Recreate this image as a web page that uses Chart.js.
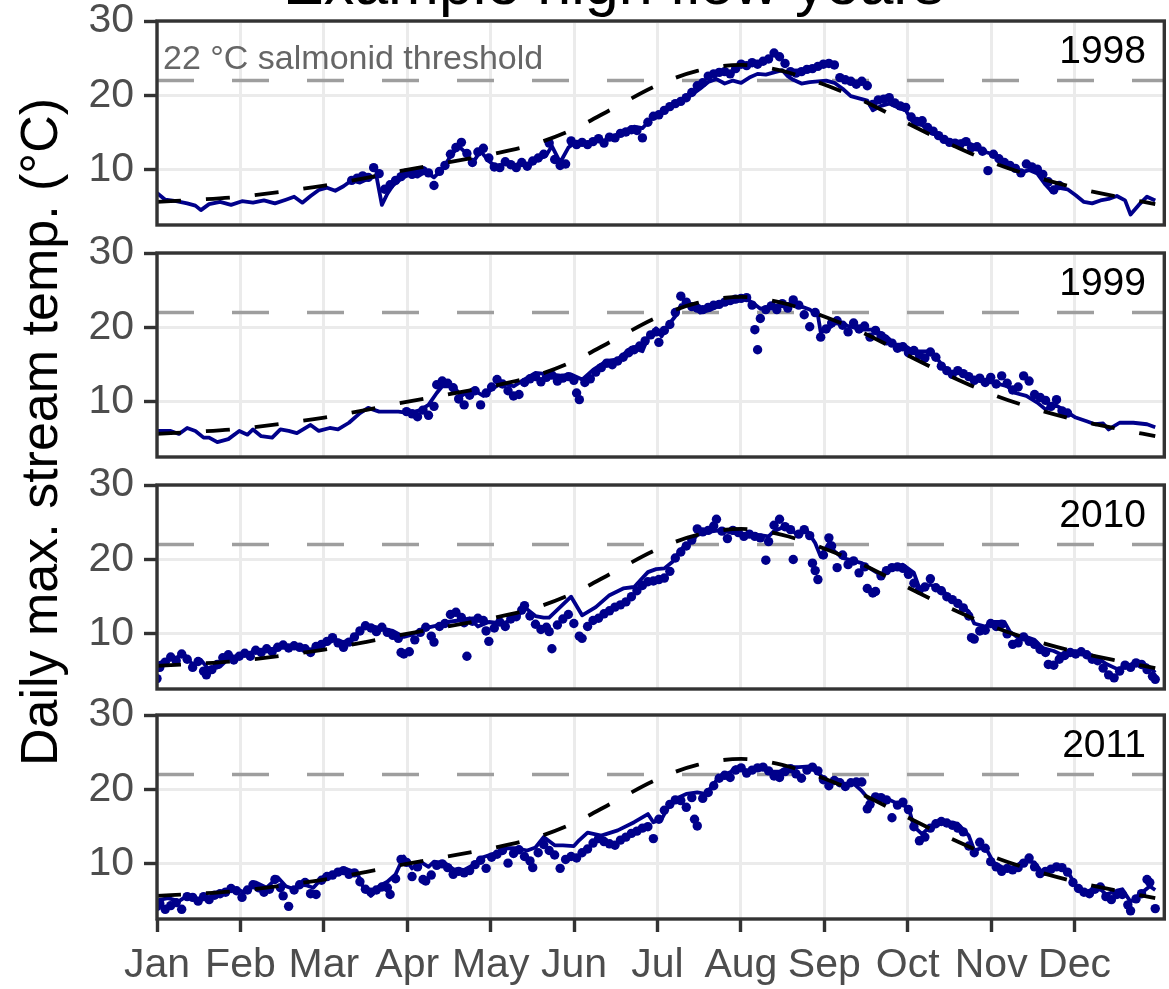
<!DOCTYPE html>
<html>
<head>
<meta charset="utf-8">
<script src="https://cdn.jsdelivr.net/npm/chart.js@4.4.1/dist/chart.umd.min.js"></script>
<style>
html,body{margin:0;padding:0;background:#ffffff;}
#wrap{position:relative;width:1169px;height:989px;overflow:hidden;background:#ffffff;font-family:'Liberation Sans',Arial,Helvetica,sans-serif;}
#wrap canvas{position:absolute;left:0;}
.txt{position:absolute;white-space:nowrap;line-height:1;z-index:5;}
</style>
</head>
<body>
<div id="wrap"></div>
<script>
// ---------------- DATA ----------------
const chartTitle = "Example high flow years";
const yAxisTitle = "Daily max. stream temp. (°C)";
const thresholdLabel = "22 °C salmonid threshold";
const threshold = 22;
const years = ["1998", "1999", "2010", "2011"];
const monthLabels = ["Jan","Feb","Mar","Apr","May","Jun","Jul","Aug","Sep","Oct","Nov","Dec"];
const monthTicks = [0, 30.42, 60.83, 91.25, 121.67, 152.08, 182.5, 212.92, 243.33, 273.75, 304.17, 334.58];
const yTicks = [10, 20, 30];

// long-term daily max (dashed) [day of year, °C]
const climatology = [[0,5.7],[15,6.0],[30,6.4],[46,7.1],[61,7.9],[76,8.9],[91,10.0],[106,11.0],[122,12.1],[137,13.4],[152,15.5],[167,18.4],[182,21.3],[197,23.3],[213,24.1],[228,23.3],[243,21.5],[258,19.2],[274,16.2],[289,13.5],[304,11.1],[319,9.2],[335,7.6],[350,6.4],[364,5.4]];

// modelled daily max (line)
const line1998 = [[0,6.9],[3,6.0],[7,5.8],[11,5.5],[14,5.2],[16,4.6],[19,5.4],[23,5.7],[27,5.3],[31,5.8],[35,5.6],[39,5.9],[43,5.5],[47,6.0],[50,6.4],[53,5.6],[56,6.5],[59,7.3],[62,7.6],[65,7.2],[68,7.8],[71,8.6],[74,8.3],[77,8.8],[80,9.2],[82,5.3],[84,6.8],[86,7.9],[89,8.8],[92,9.4],[95,9.1],[98,9.8],[101,9.0],[104,10.1],[107,11.8],[110,13.2],[112,12.5],[115,10.9],[118,12.5],[121,11.2],[124,10.3],[127,10.9],[130,10.6],[133,10.9],[136,10.7],[139,11.4],[142,12.0],[144,13.2],[147,11.0],[150,13.0],[153,13.8],[156,13.5],[159,13.9],[162,13.8],[165,14.2],[168,14.8],[171,15.3],[174,15.8],[177,15.6],[180,16.8],[183,17.3],[186,18.1],[189,18.7],[192,19.4],[195,20.1],[198,20.9],[201,21.8],[204,22.2],[207,21.6],[210,22.0],[213,21.7],[216,22.4],[219,22.9],[222,22.8],[225,23.1],[228,23.4],[230,22.6],[232,22.1],[235,21.6],[238,21.8],[241,21.9],[244,22.0],[247,21.7],[250,20.9],[253,19.9],[256,19.6],[259,19.3],[261,18.0],[264,18.6],[267,18.9],[270,18.4],[273,18.0],[276,16.2],[279,16.0],[282,15.2],[285,14.4],[288,13.7],[291,13.6],[294,13.9],[297,13.4],[300,12.6],[303,12.3],[306,12.0],[309,10.8],[312,10.1],[315,9.6],[318,10.0],[321,9.5],[324,8.0],[326,7.2],[329,7.6],[332,7.4],[335,6.6],[338,5.7],[341,5.5],[344,5.9],[347,6.1],[350,6.5],[353,5.9],[355,4.0],[358,5.3],[361,6.4],[364,5.9]];
const line1999 = [[0,6.1],[5,6.1],[8,5.7],[11,6.5],[14,6.1],[17,5.2],[19,5.2],[22,4.6],[26,5.0],[30,6.1],[33,5.6],[35,6.3],[38,5.4],[42,5.2],[45,6.3],[48,6.1],[51,5.8],[56,6.9],[59,6.1],[63,6.5],[66,6.3],[70,7.2],[74,8.5],[77,9.2],[81,8.7],[85,8.7],[88,8.7],[92,8.5],[96,8.9],[99,9.6],[102,11.2],[104,12.1],[108,12.1],[111,10.8],[115,11.7],[119,10.8],[122,11.7],[126,12.6],[130,12.1],[133,12.8],[138,13.9],[143,13.7],[148,13.5],[151,13.7],[155,13.0],[159,14.3],[164,15.5],[168,15.7],[173,17.3],[177,16.8],[179,18.6],[182,19.9],[184,18.8],[186,20.1],[189,21.5],[191,23.0],[195,23.0],[198,22.0],[202,22.4],[207,23.2],[212,23.6],[215,23.8],[218,23.1],[220,22.5],[224,22.8],[228,23.1],[231,23.2],[235,22.8],[238,22.4],[241,21.6],[242,19.4],[245,19.9],[248,20.8],[252,20.2],[257,19.7],[261,19.7],[266,18.8],[269,17.7],[272,17.7],[276,16.8],[281,16.8],[284,16.1],[288,14.0],[292,14.1],[295,13.4],[300,12.8],[305,12.6],[310,12.1],[313,11.2],[317,10.8],[321,9.9],[324,9.0],[328,9.5],[332,8.6],[335,7.9],[339,7.4],[342,7.0],[345,7.1],[347,6.3],[351,7.2],[356,7.2],[361,7.0],[364,6.6]];
const line2010 = [[0,6.0],[5,6.6],[10,7.2],[13,5.9],[16,6.5],[19,5.2],[23,5.6],[27,7.0],[30,6.9],[34,7.5],[38,7.8],[42,8.0],[47,8.3],[52,8.2],[56,7.9],[60,8.4],[65,9.2],[68,8.9],[71,9.3],[75,10.8],[79,11.0],[82,10.7],[86,10.4],[90,9.6],[93,9.9],[97,10.7],[102,11.1],[106,11.6],[110,11.8],[114,12.1],[117,11.0],[121,11.6],[126,11.4],[131,12.1],[134,13.6],[138,12.4],[141,12.2],[143,12.2],[147,13.6],[151,15.0],[155,12.5],[160,13.6],[165,15.2],[170,16.1],[174,16.3],[179,18.3],[182,18.7],[185,18.8],[188,19.7],[190,20.8],[192,21.7],[195,22.4],[197,23.3],[201,23.7],[205,23.9],[208,23.7],[212,23.5],[216,23.3],[219,23.3],[223,23.1],[225,23.8],[228,24.3],[230,24.2],[233,23.5],[235,23.7],[237,23.9],[240,22.2],[242,20.4],[245,22.2],[247,21.1],[250,20.2],[253,19.9],[257,19.5],[260,18.8],[264,17.9],[266,18.4],[270,19.1],[272,19.3],[276,18.2],[278,16.1],[282,16.6],[286,16.1],[289,14.8],[293,13.9],[296,13.0],[298,11.4],[302,11.0],[305,11.6],[309,11.6],[311,10.3],[314,9.5],[316,9.7],[320,9.2],[323,8.1],[327,7.7],[331,7.0],[334,7.7],[339,7.4],[343,6.8],[346,6.0],[350,5.3],[354,5.6],[357,6.3],[361,5.8],[364,4.8]];
const line2011 = [[0,5.1],[4,5.4],[8,5.0],[11,5.7],[15,5.3],[18,5.3],[22,5.7],[25,6.4],[29,6.6],[32,6.2],[36,7.5],[40,6.8],[44,8.2],[47,7.0],[50,6.6],[53,7.3],[57,6.8],[61,8.4],[64,8.6],[69,9.3],[73,8.8],[75,7.0],[78,5.7],[81,7.0],[84,7.6],[87,8.6],[90,11.0],[93,9.4],[96,10.3],[99,9.6],[101,10.3],[105,10.1],[108,9.3],[112,9.2],[116,10.0],[118,10.8],[123,11.4],[127,12.1],[131,12.1],[135,11.8],[138,12.2],[141,13.6],[145,12.5],[148,12.5],[152,12.4],[154,13.2],[157,14.2],[162,13.8],[168,14.5],[174,15.6],[179,16.7],[181,15.6],[184,16.0],[186,17.4],[190,18.9],[193,19.4],[197,19.6],[200,19.4],[203,20.7],[205,21.8],[209,22.3],[211,23.0],[216,22.4],[220,23.0],[224,22.4],[227,22.4],[231,23.0],[234,23.0],[238,23.1],[242,21.9],[245,20.6],[248,21.3],[251,20.5],[254,20.8],[257,19.8],[260,18.5],[263,19.0],[266,18.8],[270,18.1],[274,17.6],[276,15.0],[279,14.0],[281,14.7],[285,15.6],[288,15.6],[292,15.4],[296,13.8],[298,11.8],[302,12.3],[305,10.2],[309,9.4],[312,9.4],[316,10.4],[320,10.2],[323,8.7],[327,9.4],[331,9.3],[333,8.4],[335,7.0],[339,6.2],[343,7.0],[346,5.9],[350,6.4],[352,6.6],[355,4.9],[358,5.8],[362,7.0],[364,6.5]];

// observed daily max (points)
const obs1998 = [[71,8.6],[73,8.9],[75,9.2],[77,9.0],[79,10.3],[81,9.5],[83,7.4],[85,8.0],[87,8.6],[89,9.1],[91,9.6],[93,9.4],[95,9.8],[97,9.9],[99,9.6],[101,7.9],[103,9.8],[105,10.6],[107,12.1],[109,13.0],[111,13.7],[113,12.2],[115,11.0],[117,12.4],[119,12.9],[121,11.6],[123,10.4],[125,10.3],[127,11.1],[129,10.7],[131,10.3],[133,11.0],[135,10.5],[137,11.2],[139,11.6],[141,12.1],[143,13.6],[145,11.4],[147,10.6],[149,10.8],[151,13.9],[153,13.4],[155,13.7],[157,13.4],[159,13.8],[161,14.2],[163,13.6],[165,14.4],[167,14.3],[169,14.9],[171,15.1],[173,15.4],[175,15.3],[177,14.3],[179,16.4],[181,17.2],[183,17.4],[185,18.0],[187,18.5],[189,18.9],[191,19.2],[193,19.7],[195,20.4],[197,21.3],[199,21.7],[201,22.6],[203,22.9],[205,23.1],[207,23.2],[209,22.9],[211,23.6],[213,24.2],[215,24.0],[217,24.4],[219,24.2],[221,24.6],[223,24.9],[225,25.7],[227,25.2],[229,24.3],[231,23.2],[233,23.0],[235,23.2],[237,23.5],[239,23.6],[241,23.9],[243,24.2],[245,24.3],[247,24.1],[249,22.4],[251,22.1],[253,21.9],[255,21.5],[257,21.9],[259,21.3],[261,18.8],[263,19.4],[265,19.5],[267,19.7],[269,19.0],[271,18.6],[273,18.4],[275,17.1],[277,16.5],[279,16.6],[281,15.7],[283,15.2],[285,14.6],[287,14.1],[289,13.7],[291,13.6],[293,13.5],[295,13.8],[297,13.0],[299,13.1],[301,12.5],[303,9.9],[305,12.1],[307,11.5],[309,11.0],[311,10.6],[313,10.2],[315,9.6],[317,10.8],[319,10.4],[321,10.1],[323,9.4],[325,8.4],[327,7.3],[329,7.9]];
const obs1999 = [[91,8.7],[93,8.4],[95,8.0],[97,8.9],[99,8.2],[101,9.4],[102,12.3],[104,12.8],[106,12.5],[108,11.9],[110,10.4],[112,9.6],[114,10.9],[116,11.5],[118,9.6],[120,11.2],[122,12.0],[124,13.0],[126,12.4],[128,11.5],[130,10.8],[132,11.0],[134,12.6],[136,13.1],[138,13.4],[140,12.7],[142,13.3],[144,13.6],[146,12.8],[148,13.2],[150,13.4],[152,12.9],[153,11.2],[154,10.3],[156,12.6],[158,13.1],[160,14.0],[162,14.6],[164,15.2],[166,15.0],[168,15.5],[170,16.0],[172,16.6],[174,17.0],[176,17.5],[178,18.2],[180,19.0],[182,19.4],[183,18.0],[185,19.6],[187,20.4],[189,22.0],[191,24.2],[193,23.4],[195,22.8],[197,22.6],[199,22.4],[201,22.7],[203,23.0],[205,23.1],[207,23.4],[209,23.6],[211,23.8],[213,23.9],[215,24.0],[217,23.0],[218,19.7],[219,17.0],[220,21.2],[222,22.4],[224,22.9],[226,22.4],[228,23.2],[230,22.6],[232,23.7],[234,23.0],[236,21.7],[238,20.1],[240,22.0],[242,18.7],[244,19.8],[246,20.6],[248,20.9],[250,20.3],[252,19.4],[254,20.6],[256,19.8],[258,20.2],[260,18.7],[262,19.6],[264,18.9],[266,18.2],[268,17.9],[270,17.2],[272,17.4],[274,16.6],[276,16.9],[278,16.3],[280,15.9],[282,16.7],[284,16.0],[286,14.8],[288,14.2],[290,13.7],[292,14.2],[294,13.8],[296,13.4],[298,12.9],[300,13.2],[302,12.6],[304,13.3],[306,12.4],[308,13.5],[310,12.5],[312,11.6],[314,12.0],[316,13.5],[318,12.8],[320,11.0],[322,10.6],[324,10.2],[326,9.4],[328,10.3],[330,8.8],[332,8.5]];
const obs2010 = [[0,4.0],[1,5.5],[3,6.2],[5,6.9],[7,6.4],[9,7.3],[11,6.6],[13,5.5],[15,6.3],[17,5.0],[18,4.5],[20,5.2],[22,5.9],[24,6.8],[26,7.2],[28,6.5],[30,7.0],[32,7.4],[34,7.0],[36,7.8],[38,7.5],[40,8.0],[42,7.6],[44,8.2],[46,8.5],[48,8.1],[50,8.4],[52,8.2],[54,8.0],[56,7.5],[58,8.3],[60,8.6],[62,9.0],[64,9.5],[66,8.8],[68,8.2],[70,8.9],[72,9.6],[74,10.4],[76,11.1],[78,10.8],[80,10.3],[82,10.9],[84,10.2],[86,9.8],[88,9.4],[89,7.5],[90,7.3],[92,7.6],[94,9.2],[96,10.2],[98,10.9],[100,9.7],[101,8.9],[103,11.0],[105,11.4],[107,12.6],[109,12.9],[111,12.2],[112,11.5],[113,7.0],[115,11.7],[117,12.1],[119,11.8],[120,10.4],[121,9.0],[123,10.8],[125,11.6],[127,11.0],[129,12.0],[131,12.3],[133,13.2],[134,13.8],[136,12.4],[138,11.3],[140,10.6],[142,10.9],[143,10.3],[144,8.0],[146,11.2],[148,12.0],[150,12.6],[152,11.4],[154,9.7],[155,9.4],[157,11.0],[159,11.8],[161,12.1],[163,12.7],[165,13.1],[167,13.6],[169,13.9],[171,14.3],[173,15.0],[175,15.8],[177,16.5],[179,17.0],[181,17.1],[183,17.3],[185,17.5],[187,18.4],[189,20.2],[191,21.0],[193,21.8],[195,22.6],[197,24.1],[199,23.7],[201,23.9],[203,24.5],[204,25.4],[206,23.8],[208,22.8],[210,23.9],[212,23.6],[214,23.1],[216,23.4],[218,23.1],[220,22.9],[222,19.9],[223,22.4],[225,24.6],[227,25.4],[229,24.4],[231,24.0],[232,20.0],[234,23.4],[236,24.0],[238,23.2],[239,19.5],[240,18.5],[241,17.3],[243,20.6],[245,22.9],[246,21.8],[248,18.9],[250,20.6],[252,19.3],[254,19.8],[256,18.2],[258,19.0],[259,16.1],[261,15.5],[262,15.7],[264,17.8],[266,18.5],[268,18.9],[270,19.0],[272,18.8],[274,18.0],[276,16.8],[278,15.9],[280,16.3],[282,17.4],[284,16.2],[286,15.8],[288,15.0],[290,14.6],[292,14.1],[294,13.5],[296,12.4],[297,9.5],[298,9.3],[300,10.4],[302,10.5],[304,11.4],[306,11.0],[308,11.3],[310,10.0],[312,8.6],[314,8.8],[316,9.6],[318,9.0],[320,8.6],[322,7.9],[324,7.5],[325,5.9],[327,5.8],[329,6.6],[331,7.1],[333,7.5],[335,7.3],[337,7.6],[339,7.2],[341,6.6],[343,6.4],[345,5.4],[347,4.5],[349,4.1],[351,5.0],[353,5.8],[355,5.5],[357,6.1],[359,5.9],[361,5.2],[363,4.3],[364,3.9]];
const obs2011 = [[0,4.3],[1,4.7],[3,3.9],[5,4.4],[7,4.8],[9,3.9],[11,5.6],[13,5.5],[15,5.0],[17,5.6],[19,5.2],[21,5.8],[23,6.0],[25,6.2],[27,6.7],[29,6.4],[31,5.5],[33,6.5],[35,7.2],[37,6.8],[39,6.2],[41,6.6],[43,7.9],[45,6.8],[46,5.7],[48,4.3],[50,6.5],[52,7.2],[54,7.5],[56,6.0],[58,5.9],[60,7.8],[62,8.3],[64,8.5],[66,8.9],[68,9.1],[70,8.6],[72,8.8],[74,7.6],[76,6.6],[78,6.2],[80,6.5],[82,6.9],[84,6.8],[85,5.9],[87,8.0],[89,10.6],[91,10.2],[93,8.3],[95,9.6],[97,7.9],[98,7.7],[100,8.5],[102,9.8],[104,10.0],[106,9.5],[108,8.6],[110,9.0],[112,8.8],[114,9.1],[116,9.9],[118,10.5],[120,9.4],[122,10.9],[124,11.3],[126,11.8],[128,10.1],[130,11.4],[132,11.9],[134,11.0],[136,10.4],[137,9.5],[139,11.5],[141,12.6],[143,11.8],[145,11.2],[147,9.4],[149,10.6],[151,11.0],[153,10.8],[155,11.5],[157,12.0],[159,12.8],[161,13.4],[163,13.0],[165,12.7],[167,12.5],[169,13.2],[171,13.6],[173,14.1],[175,14.4],[177,14.8],[179,15.0],[181,13.4],[183,16.0],[185,17.2],[187,18.0],[189,18.6],[191,18.5],[193,17.6],[195,18.9],[196,16.0],[197,15.1],[199,18.8],[201,19.6],[203,20.5],[205,21.5],[207,21.9],[209,21.6],[211,22.6],[213,22.9],[215,22.2],[217,22.6],[219,22.9],[221,23.0],[223,22.5],[225,21.8],[227,21.6],[229,22.4],[231,22.8],[233,22.1],[235,21.5],[237,22.6],[239,23.0],[241,22.5],[243,21.3],[245,20.5],[247,21.2],[249,20.9],[251,20.4],[253,20.9],[255,21.0],[257,21.0],[259,17.4],[260,18.0],[262,19.0],[264,18.9],[266,18.6],[268,16.2],[270,17.9],[272,18.3],[274,17.3],[276,15.0],[278,13.1],[280,13.6],[282,14.8],[284,15.4],[286,15.7],[288,15.5],[290,15.2],[292,14.8],[294,14.3],[296,12.4],[298,11.5],[300,12.9],[302,12.1],[304,10.3],[306,9.6],[308,9.0],[310,9.4],[312,9.2],[314,9.5],[316,10.1],[318,10.8],[320,9.6],[322,8.7],[324,9.0],[326,9.3],[328,9.6],[330,9.5],[332,8.9],[334,7.5],[336,6.7],[338,6.2],[340,6.0],[342,6.6],[344,6.9],[346,5.6],[348,5.2],[350,5.9],[352,5.9],[354,4.5],[355,3.7],[357,5.3],[359,6.0],[361,7.9],[362,7.5],[364,4.0]];

const lineByYear = {"1998": line1998, "1999": line1999, "2010": line2010, "2011": line2011};
const obsByYear  = {"1998": obs1998,  "1999": obs1999,  "2010": obs2010,  "2011": obs2011};

// ---------------- LAYOUT / STYLE ----------------
const FONT = "'Liberation Sans', Arial, Helvetica, sans-serif";
const W = 1169, H = 989;
const panelTops = [21, 253, 485, 715];
const panelH = 204;
const padTop = 30, padBot = 10;
const plotLeft = 157, plotRight = 1168;
const xMin = 0, xMax = 367.3, yMin = 2.6, yMax = 30;
const NAVY = '#00008B';
const GRID = '#EBEBEB';
const AXIS = '#333333';
const TICKTXT = '#4D4D4D';
const TICKFONT = 41;

const toXY = arr => arr.map(p => ({x: p[0], y: p[1]}));

const borderPlugin = {
  id: 'panelBorder',
  afterDatasetsDraw(chart) {
    const a = chart.chartArea, ctx = chart.ctx;
    ctx.save();
    ctx.strokeStyle = AXIS;
    ctx.lineWidth = 3.4;
    ctx.strokeRect(a.left, a.top, a.right - a.left, a.bottom - a.top);
    ctx.restore();
  }
};

const wrap = document.getElementById('wrap');

years.forEach((yr, i) => {
  const isBottom = i === years.length - 1;
  const cTop = panelTops[i] - padTop;
  const cH = isBottom ? H - cTop : padTop + panelH + padBot;
  const cv = document.createElement('canvas');
  cv.width = W; cv.height = cH;
  cv.style.top = cTop + 'px';
  cv.style.width = W + 'px'; cv.style.height = cH + 'px';
  wrap.appendChild(cv);

  new Chart(cv, {
    type: 'scatter',
    data: {
      datasets: [
        { // long-term curve (top)
          data: toXY(climatology), showLine: true, pointRadius: 0,
          borderColor: '#000000', borderWidth: 3.8, borderDash: [24, 25],
          cubicInterpolationMode: 'monotone', fill: false, order: 0
        },
        { // observations
          data: toXY(obsByYear[yr]), showLine: false, pointRadius: 4.7,
          pointBackgroundColor: NAVY, pointBorderWidth: 0, pointBorderColor: NAVY,
          backgroundColor: NAVY, order: 1
        },
        { // model line
          data: toXY(lineByYear[yr]), showLine: true, pointRadius: 0,
          borderColor: NAVY, borderWidth: 3.8, tension: 0, fill: false,
          borderJoinStyle: 'round', order: 2
        },
        { // threshold
          data: [{x: xMin, y: threshold}, {x: xMax, y: threshold}], showLine: true, pointRadius: 0,
          borderColor: '#9E9E9E', borderWidth: 3.4, borderDash: [37, 38], fill: false, order: 3
        }
      ]
    },
    options: {
      responsive: false,
      animation: false,
      devicePixelRatio: 1,
      events: [],
      layout: { padding: { left: 0, right: W - plotRight, top: padTop, bottom: isBottom ? 0 : padBot } },
      plugins: { legend: { display: false }, tooltip: { enabled: false }, title: { display: false } },
      scales: {
        x: {
          type: 'linear', position: 'bottom', min: xMin, max: xMax,
          afterBuildTicks: s => { s.ticks = monthTicks.map(v => ({value: v})); },
          afterFit: s => {
            s.height = isBottom ? (H - (panelTops[i] + panelH)) : 0;
            s.paddingLeft = 0; s.paddingRight = 0; s.paddingTop = 0; s.paddingBottom = 0;
          },
          ticks: {
            display: isBottom, autoSkip: false, maxRotation: 0, minRotation: 0,
            padding: 9, color: TICKTXT, font: { family: FONT, size: TICKFONT },
            callback: (v, idx) => monthLabels[idx]
          },
          grid: { color: GRID, lineWidth: 3, drawTicks: isBottom, tickLength: 13, tickColor: AXIS, tickWidth: 3.4 },
          border: { display: false }
        },
        y: {
          type: 'linear', position: 'left', min: yMin, max: yMax,
          afterBuildTicks: s => { s.ticks = yTicks.map(v => ({value: v})); },
          afterFit: s => {
            s.width = plotLeft;
            s.paddingTop = 0; s.paddingBottom = 0; s.paddingLeft = 0; s.paddingRight = 0;
          },
          ticks: {
            padding: 10, color: TICKTXT, font: { family: FONT, size: TICKFONT },
            callback: v => String(v)
          },
          grid: { color: GRID, lineWidth: 3, drawTicks: true, tickLength: 13, tickColor: AXIS, tickWidth: 3.4 },
          border: { display: false }
        }
      }
    },
    plugins: [borderPlugin]
  });
});

// ---------------- TEXT ----------------
function addText(str, css) {
  const d = document.createElement('div');
  d.className = 'txt';
  d.textContent = str;
  Object.assign(d.style, css);
  wrap.appendChild(d);
  return d;
}
// title (partly above the page)
addText(chartTitle, { left: '283px', top: (4.5 - 0.8465 * 61) + 'px', fontSize: '61px', color: '#000000' });
// y axis title
addText(yAxisTitle, { left: '39px', top: '432px', fontSize: '52px', color: '#000000',
  transform: 'translate(-50%,-50%) rotate(-90deg)' });
// threshold label
addText(thresholdLabel, { left: '163px', top: (68.3 - 0.8465 * 34) + 'px', fontSize: '34px', color: '#666666' });
// year strip labels
years.forEach((yr, i) => {
  addText(yr, { right: (W - 1146) + 'px', top: (panelTops[i] + 42 - 0.8465 * 39) + 'px', fontSize: '39px', color: '#000000', textAlign: 'right' });
});
</script>
</body>
</html>
